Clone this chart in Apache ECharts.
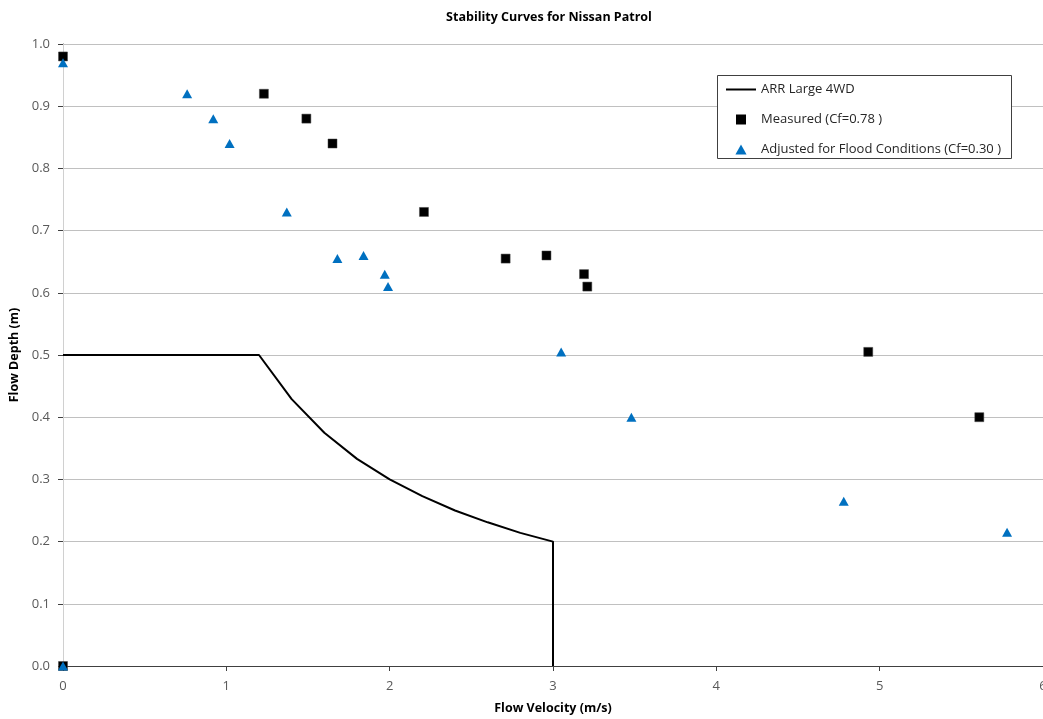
<!DOCTYPE html>
<html><head><meta charset="utf-8">
<script src="https://cdn.jsdelivr.net/npm/echarts@6/dist/echarts.min.js"></script>
<style>html,body{margin:0;padding:0;background:#fff}#c{width:1043px;height:719px}</style>
</head><body><div id="c"></div>
<script>
const titleText = 'Stability Curves for Nissan Patrol';
const xName = 'Flow Velocity (m/s)';
const yName = 'Flow Depth (m)';
const seriesNames = ['ARR Large 4WD', 'Measured (Cf=0.78 )', 'Adjusted for Flood Conditions (Cf=0.30 )'];
const curveV = [0, 1.2, 1.4, 1.6, 1.8, 2.0, 2.2, 2.4, 2.6, 2.8, 3.0, 3.0];
const curveD = [0.5, 0.5, 0.429, 0.375, 0.333, 0.3, 0.273, 0.25, 0.231, 0.214, 0.2, 0];
const measuredV = [0, 0, 1.23, 1.49, 1.65, 2.21, 2.71, 2.96, 3.19, 3.21, 4.93, 5.61];
const measuredD = [0, 0.98, 0.92, 0.88, 0.84, 0.73, 0.655, 0.66, 0.63, 0.61, 0.505, 0.40];
const adjustedV = [0, 0, 0.76, 0.92, 1.02, 1.37, 1.68, 1.84, 1.97, 1.99, 3.05, 3.48, 4.78, 5.78];
const adjustedD = [0, 0.97, 0.92, 0.88, 0.84, 0.73, 0.655, 0.66, 0.63, 0.61, 0.505, 0.40, 0.265, 0.215];
const xRange = [0, 6, 1];
const yRange = [0, 1, 0.1];

const zip = (a, b) => a.map((v, i) => [v, b[i]]);
const FONT = 'Open Sans';
const chart = echarts.init(document.getElementById('c'), null, {renderer: 'canvas'});
chart.setOption({
  animation: false,
  backgroundColor: '#fff',
  title: {
    text: titleText, left: 544, textAlign: 'center', top: 6,
    textStyle: {fontFamily: FONT, fontSize: 12.5, fontWeight: 'bold', color: '#000'}
  },
  grid: {left: 63, right: 0, top: 44, bottom: 53, containLabel: false, outerBoundsMode: 'none'},
  xAxis: [{
    type: 'value', min: xRange[0], max: xRange[1], interval: xRange[2],
    name: xName, nameLocation: 'middle', nameGap: 36,
    nameTextStyle: {fontFamily: FONT, fontSize: 12.5, fontWeight: 'bold', color: '#000'},
    axisLine: {show: true, onZero: false, lineStyle: {color: '#404040', width: 1}},
    axisTick: {show: true, length: 5, lineStyle: {color: '#404040'}},
    axisLabel: {margin: 14, fontFamily: FONT, fontSize: 13, color: '#595959'},
    splitLine: {show: false}
  }, {
    type: 'value', position: 'top', min: xRange[0], max: xRange[1], interval: xRange[2],
    axisLine: {show: true, lineStyle: {color: '#404040', width: 1}},
    axisTick: {show: false}, axisLabel: {show: false}, splitLine: {show: false}
  }],
  yAxis: [{
    type: 'value', min: yRange[0], max: yRange[1], interval: yRange[2],
    name: yName, nameLocation: 'middle', nameGap: 37, nameRotate: 90,
    nameTextStyle: {fontFamily: FONT, fontSize: 12.5, fontWeight: 'bold', color: '#000'},
    axisLine: {show: true, onZero: false, lineStyle: {color: '#404040', width: 1}},
    axisTick: {show: true, length: 5, lineStyle: {color: '#404040'}},
    axisLabel: {margin: 13, fontFamily: FONT, fontSize: 13, color: '#595959', formatter: v => v.toFixed(1)},
    splitLine: {show: true, lineStyle: {color: '#c0c0c0', width: 1}}
  }, {
    type: 'value', position: 'right', min: yRange[0], max: yRange[1], interval: yRange[2],
    axisLine: {show: true, lineStyle: {color: '#d0d0d0', width: 1}},
    axisTick: {show: false}, axisLabel: {show: false}, splitLine: {show: false}
  }],
  legend: {
    orient: 'vertical', left: 721, top: 78, itemWidth: 30, itemHeight: 10, itemGap: 17,
    z: 20, selectedMode: false, symbolKeepAspect: true,
    textStyle: {fontFamily: FONT, fontSize: 13, color: '#262626'},
    data: [
      {name: seriesNames[0], icon: 'path://M0,0L30,0L30,2L0,2Z', itemStyle: {color: '#000'}},
      {name: seriesNames[1], icon: 'path://M0,0L10,0L10,10L0,10Z', itemStyle: {color: '#000', borderWidth: 0}},
      {name: seriesNames[2], icon: 'path://M5,0L10,9L0,9Z', itemStyle: {color: '#0070C0'}}
    ]
  },
  graphic: [{
    type: 'rect', z: 10, left: 717, top: 75,
    shape: {width: 294, height: 83},
    style: {fill: '#fff', stroke: '#404040', lineWidth: 1}
  }],
  series: [{
    name: seriesNames[0], type: 'line', data: zip(curveV, curveD),
    symbol: 'none', lineStyle: {color: '#000', width: 2}, itemStyle: {color: '#000'}, z: 2
  }, {
    name: seriesNames[1], type: 'scatter', data: zip(measuredV, measuredD),
    symbol: 'rect', symbolSize: 9, clip: false,
    itemStyle: {color: '#000', opacity: 1, borderColor: '#444', borderWidth: 0.5}, z: 3
  }, {
    name: seriesNames[2], type: 'scatter', data: zip(adjustedV, adjustedD),
    symbol: 'triangle', symbolSize: [10, 9], clip: false,
    itemStyle: {color: '#0070C0', opacity: 1}, z: 4
  }]
});
</script></body></html>
